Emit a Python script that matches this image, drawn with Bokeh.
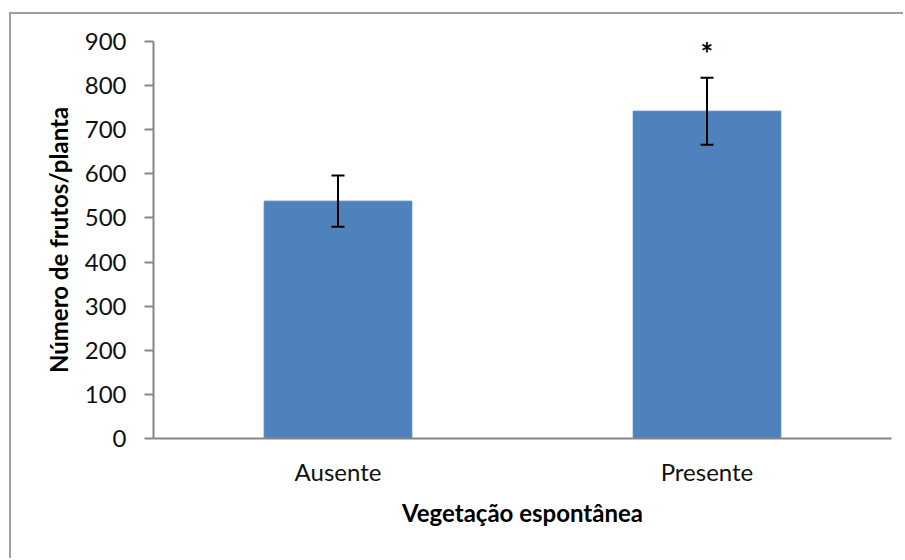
from bokeh.plotting import figure
from bokeh.models import ColumnDataSource, Whisker, TeeHead, FactorRange
from bokeh.core.properties import value
from bokeh.embed import file_html
from bokeh.resources import INLINE

categories = ["Ausente", "Presente"]
means = [538, 742]
errors = [58, 76]
marks = ["", "*"]
mark_y = [0, 884]

upper = [m + e for m, e in zip(means, errors)]
lower = [m - e for m, e in zip(means, errors)]

src = ColumnDataSource(dict(cat=categories, mean=means, upper=upper, lower=lower,
                            mark=marks, mark_y=mark_y))

FONT = "Lato"

p = figure(x_range=FactorRange(*categories, range_padding=0), y_range=(0, 900),
           width=892, height=544, output_backend="svg", toolbar_location=None,
           min_border_left=142, min_border_right=14, min_border_top=27, min_border_bottom=122)
p.styles = {"border-left": "2px solid #a0a0a0", "border-top": "2px solid #a0a0a0",
            "margin-left": "9px", "margin-top": "12px",
            "box-sizing": "content-box", "overflow": "hidden"}

p.vbar(x="cat", top="mean", width=0.4, source=src, fill_color="#4F81BD",
       line_color="#4F81BD")

w = Whisker(base="cat", upper="upper", lower="lower", source=src,
            line_color="black", line_width=2, level="overlay",
            upper_head=TeeHead(size=13, line_color="black", line_width=2),
            lower_head=TeeHead(size=13, line_color="black", line_width=2))
p.add_layout(w)

p.text(x="cat", y="mark_y", text="mark", source=src, text_align="center",
       text_baseline="middle", text_font=value(FONT), text_font_size="30px",
       text_font_style="bold", text_color="black", y_offset=4)

p.grid.visible = False
p.outline_line_color = None

axis_color = "#868686"
for ax in (p.xaxis[0], p.yaxis[0]):
    ax.axis_line_color = axis_color
    ax.axis_line_width = 2
    ax.major_tick_line_color = axis_color
    ax.major_tick_line_width = 2
    ax.minor_tick_line_color = None
    ax.major_label_text_font = FONT
    ax.major_label_text_font_size = "24px"
    ax.major_label_text_color = "#111111"
    ax.axis_label_text_font = FONT
    ax.axis_label_text_font_size = "24px"
    ax.axis_label_text_font_style = "bold"
    ax.axis_label_text_color = "black"

p.yaxis.ticker = [0, 100, 200, 300, 400, 500, 600, 700, 800, 900]
p.yaxis.major_tick_out = 9
p.yaxis.major_tick_in = 0
p.yaxis.major_label_standoff = 18
p.yaxis.axis_label = "Número de frutos/planta"
p.yaxis.axis_label_standoff = 9

p.xaxis.major_tick_line_color = None
p.xaxis.major_tick_out = 0
p.xaxis.major_tick_in = 0
p.xaxis.major_label_standoff = 18
p.xaxis.axis_label = "Vegetação espontânea"
p.xaxis.axis_label_standoff = 9

open("out.html", "w").write(file_html(p, INLINE))
